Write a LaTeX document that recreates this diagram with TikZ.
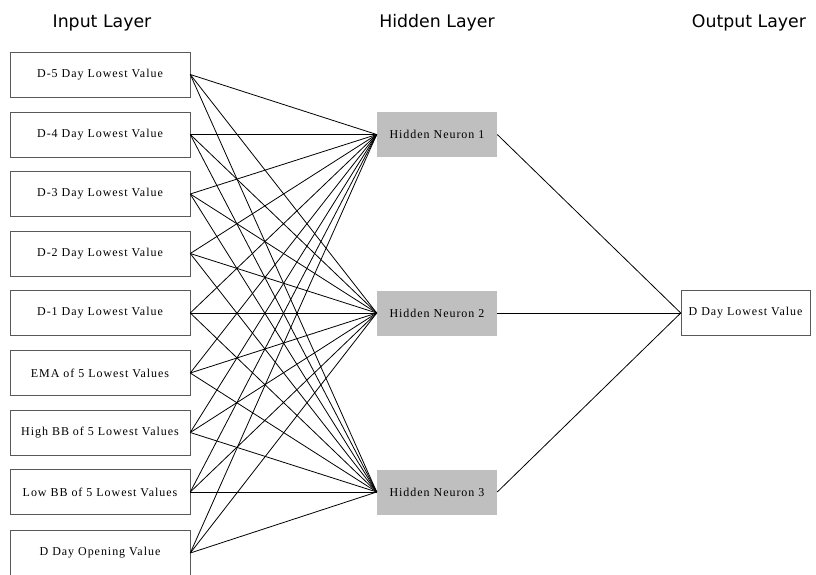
\documentclass[tikz,border=0pt]{standalone}
\usepackage{fontspec}
\setmainfont{Liberation Serif}
\newfontfamily\titlefont{DejaVu Sans}
\tikzset{
  inbox/.style={draw=black!65,fill=white,minimum width=135pt,minimum height=33.75pt,inner sep=0pt,font=\fontsize{9}{11}\selectfont\addfontfeature{LetterSpace=8}},
  hidbox/.style={fill=black!25,minimum width=90pt,minimum height=33.75pt,inner sep=0pt,font=\fontsize{9}{11}\selectfont\addfontfeature{LetterSpace=8}},
  outbox/.style={draw=black!65,fill=white,minimum width=96.75pt,minimum height=33.75pt,inner sep=0pt,font=\fontsize{9}{11}\selectfont\addfontfeature{LetterSpace=8}},
  layertitle/.style={font=\titlefont\fontsize{13}{15}\selectfont},
  wire/.style={line width=0.6pt}
}
\begin{document}
\begin{tikzpicture}[x=0.75pt,y=-0.75pt]
\useasboundingbox (0,0) rectangle (816,574);
\node[layertitle] (tin) at (102,23) {Input Layer};
\node[layertitle] (thid) at (437,23) {Hidden Layer};
\node[layertitle] (tout) at (749,23) {Output Layer};

% input layer
\node[inbox] (in1) at (100,74.5) {D-5 Day Lowest Value};
\node[inbox] (in2) at (100,134.5) {D-4 Day Lowest Value};
\node[inbox] (in3) at (100,194) {D-3 Day Lowest Value};
\node[inbox] (in4) at (100,253.5) {D-2 Day Lowest Value};
\node[inbox] (in5) at (100,313) {D-1 Day Lowest Value};
\node[inbox] (in6) at (100,373) {EMA of 5 Lowest Values};
\node[inbox] (in7) at (100,432.5) {High BB of 5 Lowest Values};
\node[inbox] (in8) at (100,492) {Low BB of 5 Lowest Values};
\node[inbox] (in9) at (100,553) {D Day Opening Value};

% hidden layer
\node[hidbox] (hid1) at (437,134.5) {Hidden Neuron 1};
\node[hidbox] (hid2) at (437,313) {Hidden Neuron 2};
\node[hidbox] (hid3) at (437,492) {Hidden Neuron 3};

% output layer
\node[outbox] (out) at (745.5,313) {D Day Lowest Value};

\foreach \i in {1,...,9}
  \foreach \j in {1,2,3}
    \draw[wire] (in\i.east) -- (hid\j.west);
\foreach \j in {1,2,3}
  \draw[wire] (hid\j.east) -- (out.west);
\end{tikzpicture}
\end{document}
